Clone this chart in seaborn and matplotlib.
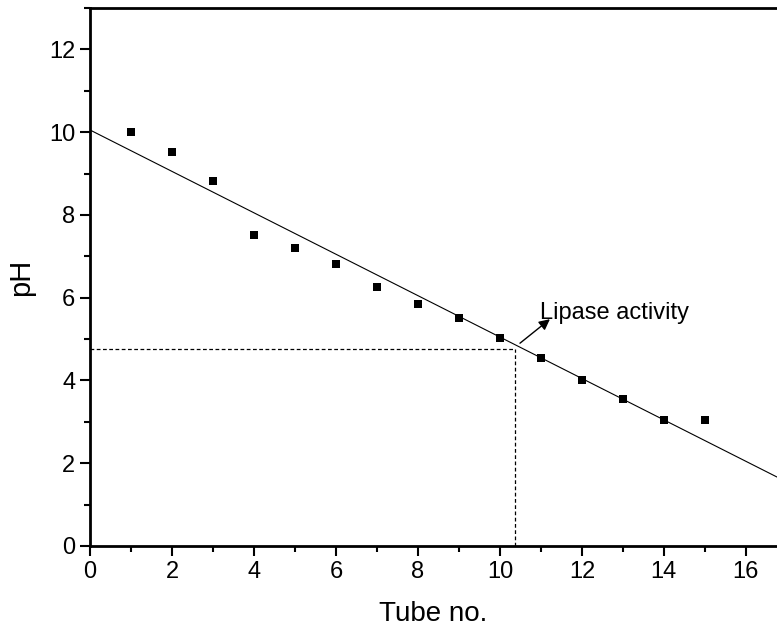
import numpy as np
import pandas as pd
import matplotlib
matplotlib.use('Agg')
import matplotlib.pyplot as plt
import seaborn as sns
from matplotlib.ticker import MultipleLocator

# ─── Data ─────────────────────────────────────────────────────────────────────

tube_no = [1, 2, 3, 4, 5, 6, 7, 8, 9, 10, 11, 12, 13, 14, 15]
ph_vals = [10.0, 9.52, 8.82, 7.52, 7.2, 6.82, 6.25, 5.85, 5.52, 5.02,
           4.55, 4.02, 3.55, 3.05, 3.05]

activity_tube = 10.36
activity_ph = 4.75
label_text = "Lipase activity"

df = pd.DataFrame({'tube': tube_no, 'ph': ph_vals})

# ─── Plot ─────────────────────────────────────────────────────────────────────

sns.set_style('ticks')
plt.rcParams['font.family'] = ['Liberation Sans Narrow', 'Liberation Sans',
                               'DejaVu Sans']
plt.rcParams['text.color'] = 'black'
plt.rcParams['axes.labelcolor'] = 'black'

fig = plt.figure(figsize=(7.77, 6.28), dpi=100)
ax = fig.add_axes([0.1158, 0.1306, 0.8842, 0.8567])
ax.set_xlim(0, 16.76)
ax.set_ylim(0, 13.0)

# linear fit through the points, extended to the axis limits
sns.regplot(data=df, x='tube', y='ph', ax=ax, scatter=False, ci=None,
            truncate=False, line_kws={'color': 'black', 'lw': 0.8})
sns.scatterplot(data=df, x='tube', y='ph', ax=ax, marker='s', s=28,
                color='black', edgecolor='black', linewidth=0, zorder=3)

# read-off of the activity point
ax.plot([0, activity_tube], [activity_ph, activity_ph], color='black',
        lw=0.9, ls=(0, (3, 2)))
ax.plot([activity_tube, activity_tube], [0, activity_ph], color='black',
        lw=0.9, ls=(0, (3, 2)))

ax.annotate('', xy=(11.22, 5.48), xytext=(10.49, 4.90),
            arrowprops=dict(arrowstyle='-|>', color='black', lw=1.0,
                            mutation_scale=16, shrinkA=0, shrinkB=0))
ax.text(10.98, 5.63, label_text, fontsize=17, va='center', ha='left',
        color='black')

ax.set_xlim(0, 16.76)
ax.set_ylim(0, 13.0)
ax.xaxis.set_major_locator(MultipleLocator(2))
ax.xaxis.set_minor_locator(MultipleLocator(1))
ax.yaxis.set_minor_locator(MultipleLocator(1))
ax.set_yticks([0, 2, 4, 6, 8, 10, 12])

ax.tick_params(which='major', direction='out', length=7, width=1.5,
               labelsize=17, colors='black')
ax.tick_params(which='minor', direction='out', length=4.5, width=1.5,
               colors='black')

for side in ['left', 'bottom', 'top']:
    ax.spines[side].set_linewidth(2.0)
    ax.spines[side].set_color('black')
ax.spines['right'].set_visible(False)

ax.set_xlabel('Tube no.', fontsize=20, labelpad=13)
ax.set_ylabel('pH', fontsize=21, labelpad=10)

fig.savefig('out.png', dpi=100)
plt.close(fig)
